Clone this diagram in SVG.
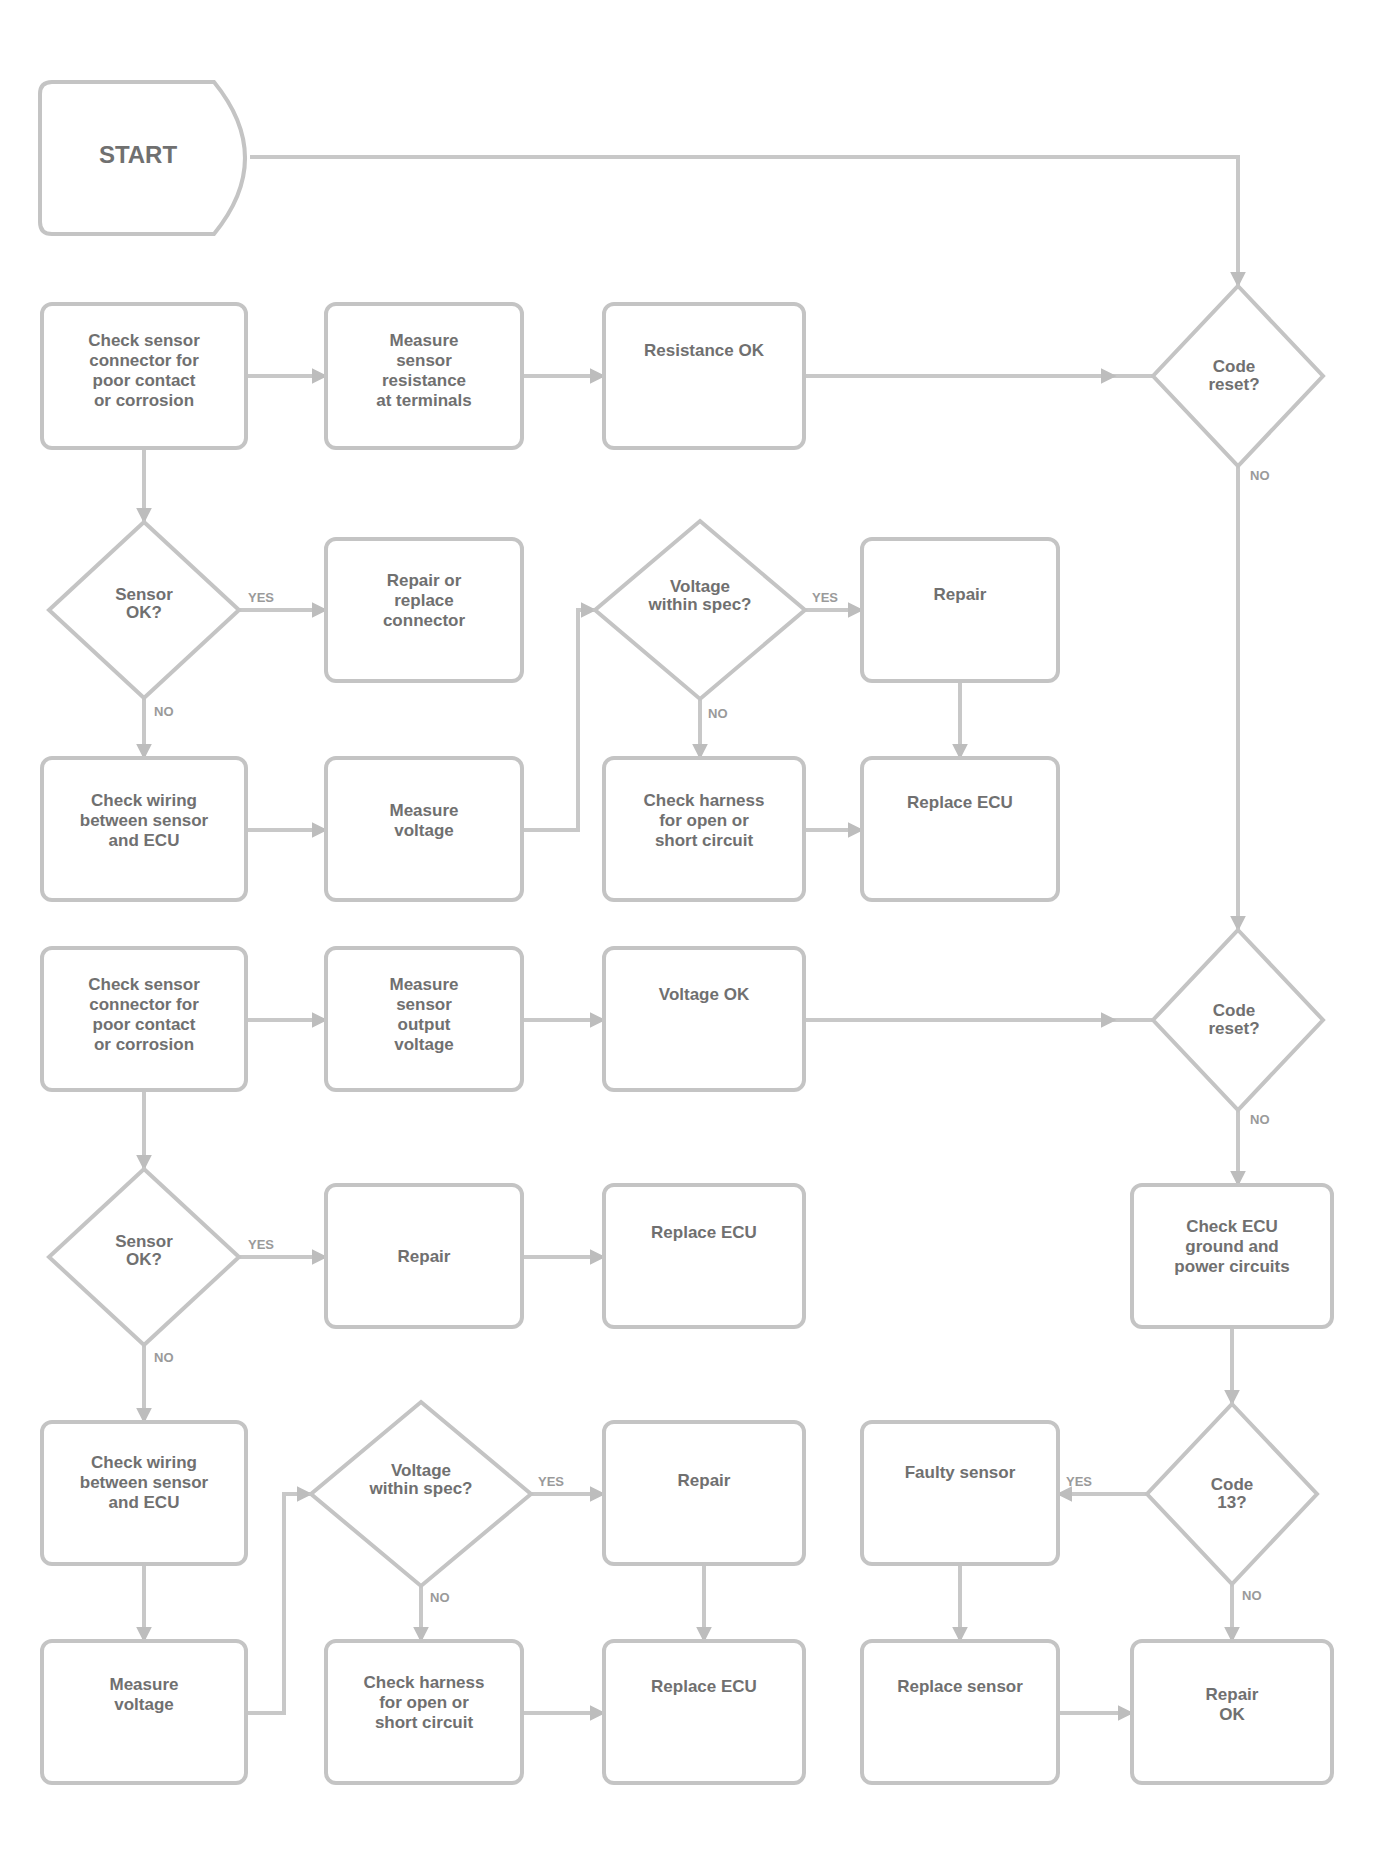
<svg xmlns="http://www.w3.org/2000/svg" width="1375" height="1861" viewBox="0 0 1375 1861">
<style>
.n rect,.n path,.n polygon{fill:#fff;stroke:#c4c4c4;stroke-width:4}
.t{font-family:"Liberation Sans",Arial,sans-serif;font-size:17px;font-weight:bold;fill:#707070;text-anchor:middle}
.s{font-size:24px}
.l{font-family:"Liberation Sans",Arial,sans-serif;font-size:13px;font-weight:bold;fill:#9a9a9a}
.c{stroke:#c8c8c8;stroke-width:4;fill:none}
.a{marker-end:url(#ah)}
</style>
<defs>
<marker id="ah" viewBox="0 0 10 10" refX="9" refY="5" markerWidth="4" markerHeight="4" orient="auto"><path d="M0,0L10,5L0,10z" fill="#bdbdbd"/></marker>
</defs>
<rect width="1375" height="1861" fill="#fff"/>
<g id="connectors">
<path class="c a" d="M250,157H1238V286"/>
<path class="c a" d="M246,376H326"/>
<path class="c a" d="M522,376H604"/>
<path class="c" d="M804,376H1153"/>
<path class="c a" d="M804,376H1115"/>
<path class="c a" d="M1238,466V930"/>
<path class="c a" d="M144,448V522"/>
<path class="c a" d="M239,610H326"/>
<path class="c a" d="M144,698V758"/>
<path class="c a" d="M246,830H326"/>
<path class="c a" d="M522,830H578V610H595"/>
<path class="c a" d="M805,610H862"/>
<path class="c a" d="M700,700V758"/>
<path class="c a" d="M960,681V758"/>
<path class="c a" d="M804,830H862"/>
<path class="c a" d="M246,1020H326"/>
<path class="c a" d="M522,1020H604"/>
<path class="c" d="M804,1020H1153"/>
<path class="c a" d="M804,1020H1115"/>
<path class="c a" d="M1238,1110V1185"/>
<path class="c a" d="M144,1090V1169"/>
<path class="c a" d="M239,1257H326"/>
<path class="c a" d="M522,1257H604"/>
<path class="c a" d="M144,1345V1422"/>
<path class="c a" d="M1232,1327V1404"/>
<path class="c a" d="M1147,1494H1058"/>
<path class="c a" d="M144,1564V1641"/>
<path class="c a" d="M246,1713H284V1494H311"/>
<path class="c a" d="M531,1494H604"/>
<path class="c a" d="M421,1586V1641"/>
<path class="c a" d="M704,1564V1641"/>
<path class="c a" d="M960,1564V1641"/>
<path class="c a" d="M1232,1584V1641"/>
<path class="c a" d="M522,1713H604"/>
<path class="c a" d="M1058,1713H1132"/>
<text class="l" x="1250" y="480">NO</text>
<text class="l" x="248" y="602">YES</text>
<text class="l" x="154" y="716">NO</text>
<text class="l" x="812" y="602">YES</text>
<text class="l" x="708" y="718">NO</text>
<text class="l" x="1250" y="1124">NO</text>
<text class="l" x="248" y="1249">YES</text>
<text class="l" x="154" y="1362">NO</text>
<text class="l" x="538" y="1486">YES</text>
<text class="l" x="430" y="1602">NO</text>
<text class="l" x="1066" y="1486">YES</text>
<text class="l" x="1242" y="1600">NO</text>
</g>
<g id="start" class="n"><path d="M52,82H214Q276,158 214,234H52Q40,234 40,222V94Q40,82 52,82Z"/><text class="t s" x="138" y="163">START</text></g>
<g id="a1" class="n"><rect x="42" y="304" width="204" height="144" rx="10"/><text class="t" x="144" y="346"><tspan x="144">Check sensor</tspan><tspan x="144" dy="20">connector for</tspan><tspan x="144" dy="20">poor contact</tspan><tspan x="144" dy="20">or corrosion</tspan></text></g>
<g id="a2" class="n"><rect x="326" y="304" width="196" height="144" rx="10"/><text class="t" x="424" y="346"><tspan x="424">Measure</tspan><tspan x="424" dy="20">sensor</tspan><tspan x="424" dy="20">resistance</tspan><tspan x="424" dy="20">at terminals</tspan></text></g>
<g id="a3" class="n"><rect x="604" y="304" width="200" height="144" rx="10"/><text class="t" x="704" y="356">Resistance OK</text></g>
<g id="d1" class="n"><polygon points="1238,286 1323,376 1238,466 1153,376"/><text class="t" x="1234" y="372"><tspan x="1234">Code</tspan><tspan x="1234" dy="18">reset?</tspan></text></g>
<g id="b1" class="n"><polygon points="144,522 239,610 144,698 49,610"/><text class="t" x="144" y="600"><tspan x="144">Sensor</tspan><tspan x="144" dy="18">OK?</tspan></text></g>
<g id="b2" class="n"><rect x="326" y="539" width="196" height="142" rx="10"/><text class="t" x="424" y="586"><tspan x="424">Repair or</tspan><tspan x="424" dy="20">replace</tspan><tspan x="424" dy="20">connector</tspan></text></g>
<g id="b3" class="n"><polygon points="700,521 805,610 700,699 595,610"/><text class="t" x="700" y="592"><tspan x="700">Voltage</tspan><tspan x="700" dy="18">within spec?</tspan></text></g>
<g id="b4" class="n"><rect x="862" y="539" width="196" height="142" rx="10"/><text class="t" x="960" y="600">Repair</text></g>
<g id="c1" class="n"><rect x="42" y="758" width="204" height="142" rx="10"/><text class="t" x="144" y="806"><tspan x="144">Check wiring</tspan><tspan x="144" dy="20">between sensor</tspan><tspan x="144" dy="20">and ECU</tspan></text></g>
<g id="c2" class="n"><rect x="326" y="758" width="196" height="142" rx="10"/><text class="t" x="424" y="816"><tspan x="424">Measure</tspan><tspan x="424" dy="20">voltage</tspan></text></g>
<g id="c3" class="n"><rect x="604" y="758" width="200" height="142" rx="10"/><text class="t" x="704" y="806"><tspan x="704">Check harness</tspan><tspan x="704" dy="20">for open or</tspan><tspan x="704" dy="20">short circuit</tspan></text></g>
<g id="c4" class="n"><rect x="862" y="758" width="196" height="142" rx="10"/><text class="t" x="960" y="808">Replace ECU</text></g>
<g id="d_1" class="n"><rect x="42" y="948" width="204" height="142" rx="10"/><text class="t" x="144" y="990"><tspan x="144">Check sensor</tspan><tspan x="144" dy="20">connector for</tspan><tspan x="144" dy="20">poor contact</tspan><tspan x="144" dy="20">or corrosion</tspan></text></g>
<g id="d_2" class="n"><rect x="326" y="948" width="196" height="142" rx="10"/><text class="t" x="424" y="990"><tspan x="424">Measure</tspan><tspan x="424" dy="20">sensor</tspan><tspan x="424" dy="20">output</tspan><tspan x="424" dy="20">voltage</tspan></text></g>
<g id="d_3" class="n"><rect x="604" y="948" width="200" height="142" rx="10"/><text class="t" x="704" y="1000">Voltage OK</text></g>
<g id="d2" class="n"><polygon points="1238,930 1323,1020 1238,1110 1153,1020"/><text class="t" x="1234" y="1016"><tspan x="1234">Code</tspan><tspan x="1234" dy="18">reset?</tspan></text></g>
<g id="e1" class="n"><polygon points="144,1169 239,1257 144,1345 49,1257"/><text class="t" x="144" y="1247"><tspan x="144">Sensor</tspan><tspan x="144" dy="18">OK?</tspan></text></g>
<g id="e2" class="n"><rect x="326" y="1185" width="196" height="142" rx="10"/><text class="t" x="424" y="1262">Repair</text></g>
<g id="e3" class="n"><rect x="604" y="1185" width="200" height="142" rx="10"/><text class="t" x="704" y="1238">Replace ECU</text></g>
<g id="r1" class="n"><rect x="1132" y="1185" width="200" height="142" rx="10"/><text class="t" x="1232" y="1232"><tspan x="1232">Check ECU</tspan><tspan x="1232" dy="20">ground and</tspan><tspan x="1232" dy="20">power circuits</tspan></text></g>
<g id="f1" class="n"><rect x="42" y="1422" width="204" height="142" rx="10"/><text class="t" x="144" y="1468"><tspan x="144">Check wiring</tspan><tspan x="144" dy="20">between sensor</tspan><tspan x="144" dy="20">and ECU</tspan></text></g>
<g id="f2" class="n"><polygon points="421,1402 531,1494 421,1586 311,1494"/><text class="t" x="421" y="1476"><tspan x="421">Voltage</tspan><tspan x="421" dy="18">within spec?</tspan></text></g>
<g id="f3" class="n"><rect x="604" y="1422" width="200" height="142" rx="10"/><text class="t" x="704" y="1486">Repair</text></g>
<g id="f4" class="n"><rect x="862" y="1422" width="196" height="142" rx="10"/><text class="t" x="960" y="1478">Faulty sensor</text></g>
<g id="f5" class="n"><polygon points="1232,1404 1317,1494 1232,1584 1147,1494"/><text class="t" x="1232" y="1490"><tspan x="1232">Code</tspan><tspan x="1232" dy="18">13?</tspan></text></g>
<g id="g1" class="n"><rect x="42" y="1641" width="204" height="142" rx="10"/><text class="t" x="144" y="1690"><tspan x="144">Measure</tspan><tspan x="144" dy="20">voltage</tspan></text></g>
<g id="g2" class="n"><rect x="326" y="1641" width="196" height="142" rx="10"/><text class="t" x="424" y="1688"><tspan x="424">Check harness</tspan><tspan x="424" dy="20">for open or</tspan><tspan x="424" dy="20">short circuit</tspan></text></g>
<g id="g3" class="n"><rect x="604" y="1641" width="200" height="142" rx="10"/><text class="t" x="704" y="1692">Replace ECU</text></g>
<g id="g4" class="n"><rect x="862" y="1641" width="196" height="142" rx="10"/><text class="t" x="960" y="1692">Replace sensor</text></g>
<g id="g5" class="n"><rect x="1132" y="1641" width="200" height="142" rx="10"/><text class="t" x="1232" y="1700"><tspan x="1232">Repair</tspan><tspan x="1232" dy="20">OK</tspan></text></g>
</svg>
